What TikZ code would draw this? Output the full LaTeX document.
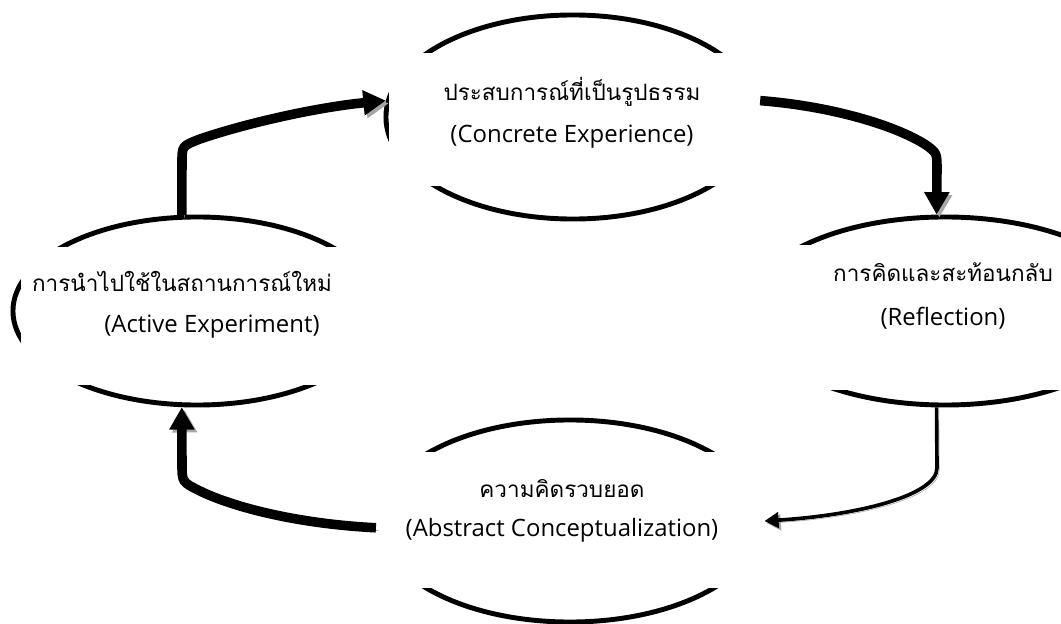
\documentclass[tikz,border=0pt]{standalone}
\usepackage{fontspec}
\setmainfont{Open Sans}
\newfontfamily\thaifont[Script=Thai]{Loma}
\usetikzlibrary{arrows.meta,shapes.geometric}

\tikzset{
	ring/.style={ellipse, draw=black, line width=3.5pt, inner sep=0pt},
	cover/.style={rectangle, fill=white, draw=none, inner sep=0pt},
	thtext/.style={font=\thaifont\fontsize{16}{19}\selectfont},
	entext/.style={font=\fontsize{17}{20}\selectfont},
	bigflow/.style={line width=6.8pt, -{Triangle[length=16pt,width=17pt]},
		preaction={draw=black!35, transform canvas={xshift=2pt,yshift=-2pt}}},
	thinflow/.style={line width=2.6pt, -{Triangle[length=10pt,width=11pt]},
		preaction={draw=black!35, transform canvas={xshift=1.6pt,yshift=-1.6pt}}}
}

\begin{document}
\begin{tikzpicture}[x=0.025cm, y=-0.025cm]
	\useasboundingbox (0,0) rectangle (1061,624);

	% Ellipsen
	\node[ring, minimum width=9.35cm, minimum height=5.1cm] (cexp) at (573,117) {};
	\node[ring, minimum width=9.2cm, minimum height=4.7cm] (aexp) at (197,311) {};
	\node[ring, minimum width=9.85cm, minimum height=4.7cm] (refl) at (945,311) {};
	\node[ring, minimum width=9.6cm, minimum height=5.05cm] (absc) at (570,521) {};

	% Textfelder
	\node[cover, minimum width=9.65cm, minimum height=3.325cm] (cbox) at (582,119.5) {};
	\node[cover, minimum width=9.55cm, minimum height=3.45cm] (abox) at (212,316) {};
	\node[cover, minimum width=7.9cm, minimum height=3.625cm] (rbox) at (903,317.5) {};
	\node[cover, minimum width=10.2cm, minimum height=3.4cm] (bbox) at (576,520) {};

	\node[thtext] (cth) at (572,92) {ประสบการณ์ที่เป็นรูปธรรม};
	\node[entext] (cen) at (572,137) {(Concrete Experience)};
	\node[thtext] (ath) at (182,281) {การนำไปใช้ในสถานการณ์ใหม่};
	\node[entext] (aen) at (212,327) {(Active Experiment)};
	\node[thtext] (rth) at (943,272) {การคิดและสะท้อนกลับ};
	\node[entext] (ren) at (943,318) {(Reflection)};
	\node[thtext] (bth) at (562,489) {ความคิดรวบยอด};
	\node[entext] (ben) at (562,530) {(Abstract Conceptualization)};

	% Pfeile
	\draw[bigflow] (aexp.99) -- (182,162) .. controls (182,146) .. (200,139)
		.. controls (250,122) and (320,107) .. (cexp.175);
	\draw[bigflow] (cexp.5) .. controls (830,106) and (895,125) .. (926,145)
		.. controls (937,153) .. (937,170) -- (refl.95);
	\draw[thinflow] (refl.265) -- (937,468) .. controls (937,495) and (860,515) .. (absc.east);
	\draw[bigflow] (absc.182) .. controls (300,524) and (235,508) .. (200,491)
		.. controls (182,482) .. (182,464) -- (aexp.261);
\end{tikzpicture}
\end{document}
